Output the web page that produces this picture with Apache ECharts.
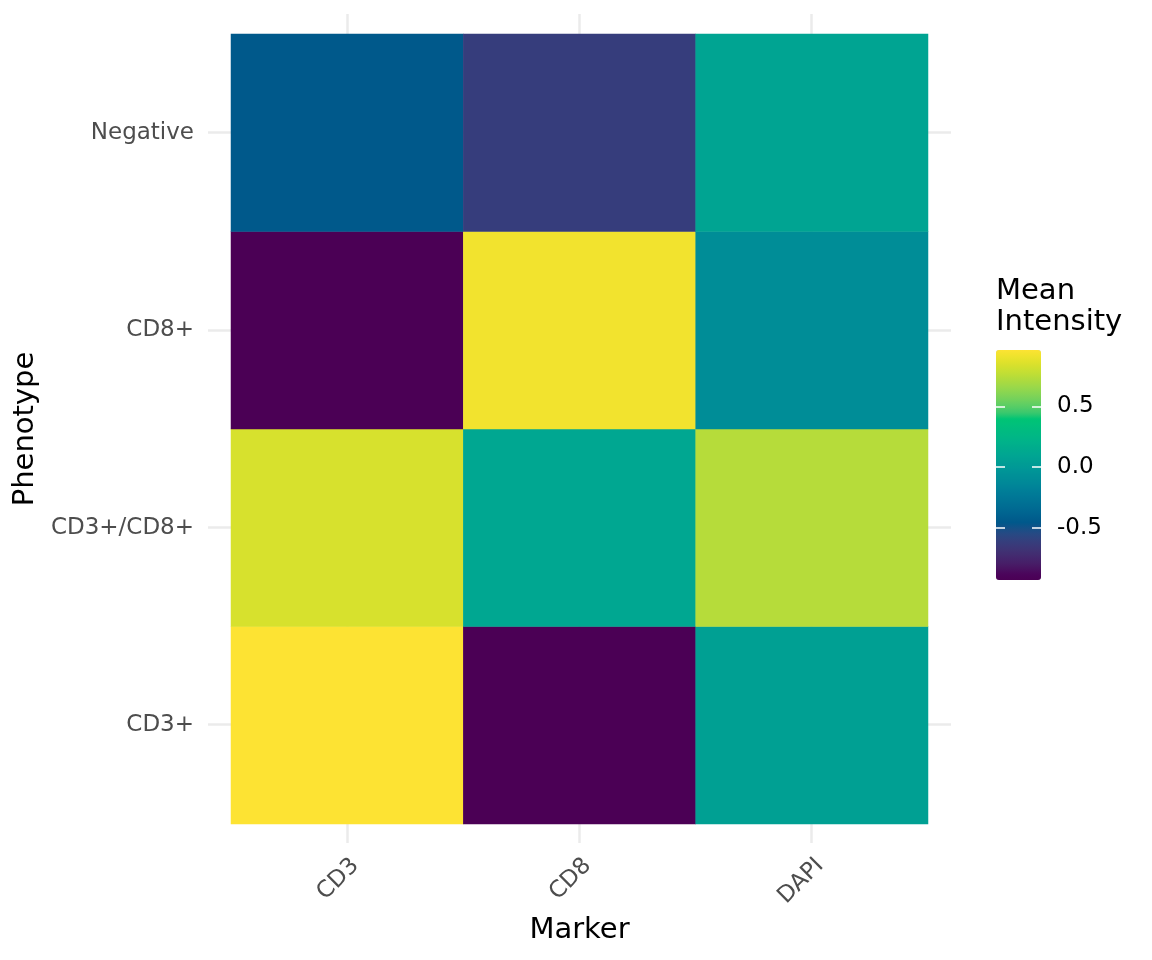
<!DOCTYPE html>
<html>
<head>
    <meta charset="utf-8">
    <title>Mean Intensity</title>
    <script src="https://cdn.jsdelivr.net/npm/echarts@6/dist/echarts.min.js"></script>
    <style>
        html, body { margin: 0; padding: 0; background: #fff; }
        #main { width: 1152px; height: 960px; }
    </style>
</head>
<body>
<div id="main"></div>
<script>
    // 数据
    var markers = ['CD3', 'CD8', 'DAPI'];
    var phenotypes = ['CD3+', 'CD3+/CD8+', 'CD8+', 'Negative']; // 从下到上
    var cd3Values = [0.966, 0.84, -0.93, -0.45];
    var cd8Values = [-0.931, 0.11, 0.93, -0.62];
    var dapiValues = [0.06, 0.74, -0.09, 0.09];
    var legendTicks = [-0.5, 0, 0.5];

    // HCL viridis 色板 (polarLUV -> sRGB)
    function hclViridis(n) {
        var Xn = 95.047, Yn = 100, Zn = 108.883;
        var un = 4 * Xn / (Xn + 15 * Yn + 3 * Zn), vn = 9 * Yn / (Xn + 15 * Yn + 3 * Zn);
        function gam(v) {
            v = v <= 0.0031308 ? 12.92 * v : 1.055 * Math.pow(v, 1 / 2.4) - 0.055;
            v = Math.round(Math.max(0, Math.min(1, v)) * 255);
            return (v < 16 ? '0' : '') + v.toString(16);
        }
        var out = [];
        for (var k = 0; k < n; k++) {
            var i = 1 - k / (n - 1);
            var L = 90 - 75 * Math.pow(i, 1.1);
            var C = 95 - 55 * i;
            var H = (75 + 225 * i) * Math.PI / 180;
            var U = C * Math.cos(H), V = C * Math.sin(H);
            var Y = L > 8 ? Yn * Math.pow((L + 16) / 116, 3) : Yn * L / 903.3;
            var up = U / (13 * L) + un, vp = V / (13 * L) + vn;
            var X = 9 * Y * up / (4 * vp);
            var Z = -X / 3 - 5 * Y + 3 * Y / vp;
            X /= 100; Y /= 100; Z /= 100;
            var r = 3.240479 * X - 1.537150 * Y - 0.498535 * Z;
            var g = -0.969256 * X + 1.875992 * Y + 0.041556 * Z;
            var b = 0.055648 * X - 0.204043 * Y + 1.057311 * Z;
            out.push('#' + gam(r) + gam(g) + gam(b));
        }
        return out;
    }

    var columns = [cd3Values, cd8Values, dapiValues];
    var data = [];
    var all = [];
    for (var i = 0; i < markers.length; i++) {
        for (var j = 0; j < phenotypes.length; j++) {
            data.push([i, j, columns[i][j]]);
            all.push(columns[i][j]);
        }
    }
    var vMin = Math.min.apply(null, all);
    var vMax = Math.max.apply(null, all);

    var myChart = echarts.init(document.getElementById('main'));
    var gridColor = '#EBEBEB';
    var tickStyle = {color: '#fff', width: 1.5};

    // 色条上的白色刻度（左右两侧）
    function barTickAxis(offset, inside) {
        return {
            gridIndex: 2, type: 'value', min: vMin, max: vMax, position: 'left', offset: offset, z: 20,
            axisLine: {show: false}, splitLine: {show: false}, axisLabel: {show: false},
            axisTick: {show: true, inside: inside, length: 9, customValues: legendTicks, lineStyle: tickStyle}
        };
    }

    var option = {
        animation: false,
        backgroundColor: '#fff',
        textStyle: {fontFamily: 'DejaVu Sans'},
        title: {
            text: 'Mean\nIntensity',
            left: 996,
            top: 276,
            padding: 0,
            textStyle: {fontSize: 29, fontWeight: 'normal', color: '#000', lineHeight: 31}
        },
        grid: [
            // 背景网格线
            {left: 208, top: 14, width: 743, height: 829},
            // 热力图
            {left: 231, top: 34, width: 697, height: 790},
            // 色条
            {left: 996, top: 350, width: 45, height: 230}
        ],
        xAxis: [
            {
                gridIndex: 0, type: 'value', min: -0.6, max: 2.6,
                axisLine: {show: false}, axisLabel: {show: false},
                axisTick: {show: false, customValues: [0, 1, 2]},
                splitLine: {show: true, lineStyle: {color: gridColor, width: 2.5}}
            },
            {
                gridIndex: 1, type: 'category', data: markers,
                axisLine: {show: false}, axisTick: {show: false}, splitLine: {show: false},
                axisLabel: {rotate: 45, margin: 30, fontSize: 23, color: '#4D4D4D', verticalAlign: 'top'},
                name: 'Marker', nameLocation: 'middle', nameGap: 92,
                nameTextStyle: {fontSize: 29, color: '#000'}
            },
            {gridIndex: 2, type: 'value', show: false}
        ],
        yAxis: [
            {
                gridIndex: 0, type: 'value', min: -0.6, max: 3.6,
                axisLine: {show: false}, axisLabel: {show: false},
                axisTick: {show: false, customValues: [0, 1, 2, 3]},
                splitLine: {show: true, lineStyle: {color: gridColor, width: 2.5}}
            },
            {
                gridIndex: 1, type: 'category', data: phenotypes,
                axisLine: {show: false}, axisTick: {show: false}, splitLine: {show: false},
                axisLabel: {margin: 37, fontSize: 23, color: '#4D4D4D', padding: [8, 0, 0, 0]},
                name: 'Phenotype', nameLocation: 'middle', nameGap: 190, nameRotate: 90,
                nameTextStyle: {fontSize: 29, color: '#000'}
            },
            {
                gridIndex: 2, type: 'value', min: vMin, max: vMax, position: 'right', z: 20,
                axisLine: {show: false}, splitLine: {show: false}, axisTick: {show: false},
                axisLabel: {show: true, customValues: legendTicks, margin: 16, fontSize: 23, color: '#000',
                    padding: [8, 0, 0, 0],
                    formatter: function (v) { return v.toFixed(1); }}
            },
            barTickAxis(0, true),
            barTickAxis(-45, false)
        ],
        visualMap: {
            type: 'continuous',
            min: vMin,
            max: vMax,
            calculable: false,
            seriesIndex: 0,
            left: 996,
            top: 350,
            z: 1,
            padding: 0,
            itemWidth: 45,
            itemHeight: 230,
            text: null,
            inRange: {color: hclViridis(41)}
        },
        series: [{
            type: 'heatmap',
            xAxisIndex: 1,
            yAxisIndex: 1,
            data: data,
            itemStyle: {borderWidth: 0},
            emphasis: {disabled: true}
        }]
    };

    myChart.setOption(option);
</script>
</body>
</html>
